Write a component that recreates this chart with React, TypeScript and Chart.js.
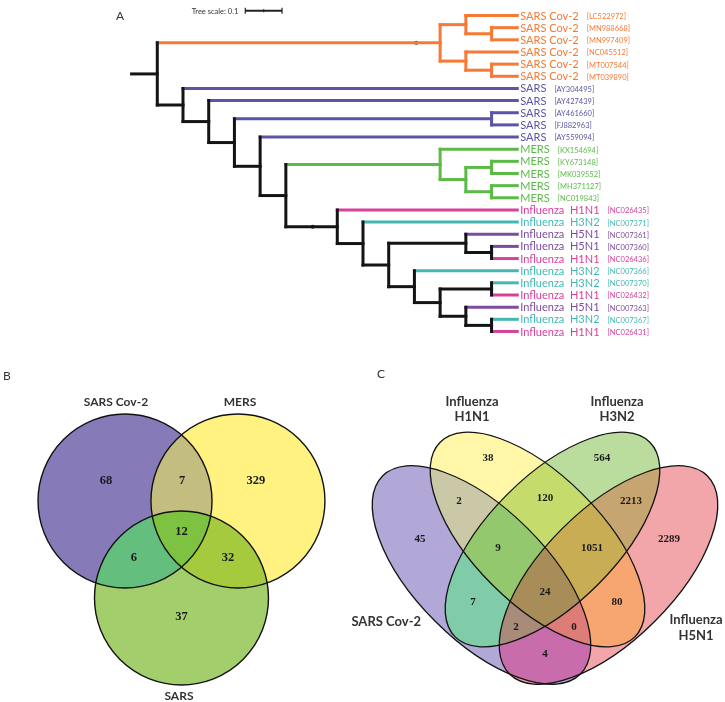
import React, { useEffect, useRef } from "react";
import { Chart, registerables } from "chart.js";

Chart.register(...registerables);

// ================= Panel A: phylogenetic tree =================
const leafNames = [
  "SARS Cov-2", "SARS Cov-2", "SARS Cov-2", "SARS Cov-2", "SARS Cov-2", "SARS Cov-2",
  "SARS", "SARS", "SARS", "SARS", "SARS",
  "MERS", "MERS", "MERS", "MERS", "MERS",
  "Influenza  H1N1", "Influenza  H3N2", "Influenza  H5N1", "Influenza  H5N1", "Influenza  H1N1",
  "Influenza  H3N2", "Influenza  H3N2", "Influenza  H1N1", "Influenza  H5N1", "Influenza  H3N2", "Influenza  H1N1",
];
const leafAccessions = [
  "LC522972", "MN988668", "MN997409", "NC045512", "MT007544", "MT039890",
  "AY304495", "AY427439", "AY461660", "FJ882963", "AY559094",
  "KX154694", "KY673148", "MK039552", "MH371127", "NC019843",
  "NC026435", "NC007371", "NC007361", "NC007360", "NC026436",
  "NC007366", "NC007370", "NC026432", "NC007363", "NC007367", "NC026431",
];
const leafGroups = [
  "cov2", "cov2", "cov2", "cov2", "cov2", "cov2",
  "sars", "sars", "sars", "sars", "sars",
  "mers", "mers", "mers", "mers", "mers",
  "h1n1", "h3n2", "h5n1", "h5n1", "h1n1", "h3n2", "h3n2", "h1n1", "h5n1", "h3n2", "h1n1",
];
const leafDistance = 1.05;

// internal nodes: id, distance from root, children (leaf index or node id)
const nodeIds = [
  "root", "n1", "cov", "cov1", "cov1a", "cov2", "cov2a", "n2", "n3", "n4", "sarsP", "n5", "n6",
  "mers", "mers1", "mers1a", "mers1b", "n7", "n8", "n9", "f1", "f1a", "n10", "n11", "f2", "f3", "f3a",
];
const nodeDistances = [
  0, 0.07, 0.84, 0.91, 0.98, 0.91, 0.98, 0.14, 0.21, 0.28, 0.98, 0.35, 0.42,
  0.84, 0.91, 0.98, 0.98, 0.56, 0.63, 0.7, 0.91, 0.98, 0.77, 0.84, 0.98, 0.91, 0.98,
];
const nodeChildren: (string | number)[][] = [
  ["n1"], ["cov", "n2"], ["cov1", "cov2"], [0, "cov1a"], [1, 2], [3, "cov2a"], [4, 5],
  [6, "n3"], [7, "n4"], ["sarsP", "n5"], [8, 9], [10, "n6"], ["mers", "n7"],
  [11, "mers1"], ["mers1a", "mers1b"], [12, 13], [14, 15],
  [16, "n8"], [17, "n9"], ["f1", "n10"], [18, "f1a"], [19, 20], [21, "n11"], ["f2", "f3"], [22, 23], [24, "f3a"], [25, 26],
];
const supportMarkNodes = ["cov", "n7"];
const supportMarkDistances = [0.775, 0.493];
const treeScaleLength = 0.1;

const groupColors: Record<string, string> = {
  cov2: "#F47A35",
  sars: "#5A55A6",
  mers: "#5CBA47",
  h1n1: "#D8409A",
  h3n2: "#43B8B3",
  h5n1: "#7E4C9E",
};

// ================= Panel B: 3-set Venn =================
const vennBSetNames = ["SARS Cov-2", "MERS", "SARS"];
const vennBRegionSets = [
  ["SARS Cov-2"], ["MERS"], ["SARS"],
  ["SARS Cov-2", "MERS"], ["SARS Cov-2", "SARS"], ["MERS", "SARS"],
  ["SARS Cov-2", "MERS", "SARS"],
];
const vennBCounts = [68, 329, 37, 7, 6, 32, 12];

// layout / style for B (units: circle radius = 1)
const vennBCircles = [
  { cx: -0.649, cy: 0.371, rx: 1, ry: 1, angle: 0 },
  { cx: 0.649, cy: 0.371, rx: 1, ry: 1, angle: 0 },
  { cx: 0, cy: -0.744, rx: 1, ry: 1, angle: 0 },
];
const vennBCountPos = [
  [-0.868, 0.613], [0.856, 0.613], [0, -0.951],
  [0.006, 0.613], [-0.546, -0.272], [0.534, -0.272],
  [0, 0.026],
];
const vennBColors = ["#867AB8", "#FFF280", "#A3CE6C", "#C3BE80", "#64BE7E", "#A6CA3E", "#7EC242"];
const vennBLabelPos = [[-0.753, 1.509], [0.672, 1.509], [-0.029, -1.87]];

// ================= Panel C: 4-set Venn =================
const vennCSetNames = ["SARS Cov-2", "Influenza H1N1", "Influenza H3N2", "Influenza H5N1"];
const vennCRegionCodes = ["A", "B", "C", "D", "AB", "AC", "AD", "BC", "BD", "CD", "ABC", "ABD", "ACD", "BCD", "ABCD"];
const vennCCounts = [45, 38, 564, 2289, 2, 7, 4, 120, 80, 2213, 9, 0, 2, 1051, 24];

// layout / style for C
const vennCEllipses = [
  { cx: -0.441, cy: -0.208, rx: 0.972, ry: 0.455, angle: -45 },
  { cx: -0.052, cy: 0.038, rx: 0.956, ry: 0.444, angle: -45 },
  { cx: 0.052, cy: 0.038, rx: 0.956, ry: 0.444, angle: 45 },
  { cx: 0.441, cy: -0.208, rx: 0.972, ry: 0.455, angle: 45 },
];
const vennCCountPos = [
  [-0.868, 0.042], [-0.396, 0.604], [0.396, 0.604], [0.861, 0.042],
  [-0.597, 0.306], [-0.5, -0.396], [0, -0.757], [0, 0.326], [0.5, -0.396], [0.597, 0.306],
  [-0.326, -0.021], [0.201, -0.569], [-0.201, -0.569], [0.326, -0.021], [0, -0.326],
];
const vennCColors = [
  "#B2A8D8", "#FFF6A8", "#BADC9C", "#F2A6AA",
  "#CAC8A7", "#80CCA8", "#C86CAC", "#C5DC6C", "#F6A66E", "#C6A570",
  "#93C86E", "#DE7C78", "#A88B78", "#C9AD55", "#A88D58",
];

// ================= helpers =================
type TNode = { x: number; y: number; groups: Set<string>; kids: TNode[] };

function buildTree() {
  const cache = new Map<string | number, TNode>();
  const get = (id: string | number): TNode => {
    if (cache.has(id)) return cache.get(id)!;
    let n: TNode;
    if (typeof id === "number") {
      n = { x: leafDistance, y: id, groups: new Set([leafGroups[id]]), kids: [] };
    } else {
      const i = nodeIds.indexOf(id);
      const kids = nodeChildren[i].map(get);
      const groups = new Set<string>();
      kids.forEach((k) => k.groups.forEach((g) => groups.add(g)));
      n = { x: nodeDistances[i], y: (kids[0].y + kids[kids.length - 1].y) / 2, groups, kids };
    }
    cache.set(id, n);
    return n;
  };
  nodeIds.forEach((id) => get(id));
  return get;
}

const BLACK = "#141414";
const nodeColor = (n: TNode) => (n.groups.size === 1 ? groupColors[[...n.groups][0]] : BLACK);

function makeTree(canvas: HTMLCanvasElement) {
  const get = buildTree();
  const black: any[] = [];
  const colored: any[] = [];
  const seg = (x1: number, y1: number, x2: number, y2: number, color: string) => {
    const ds = {
      data: [{ x: x1, y: y1 }, { x: x2, y: y2 }],
      showLine: true,
      borderColor: color,
      backgroundColor: color,
      borderWidth: 3,
      borderCapStyle: "square",
      pointRadius: 0,
      pointHoverRadius: 0,
    };
    (color === BLACK ? black : colored).push(ds);
  };
  nodeIds.forEach((id) => {
    const n = get(id);
    if (n.kids.length > 1) seg(n.x, n.kids[0].y, n.x, n.kids[n.kids.length - 1].y, nodeColor(n));
    n.kids.forEach((k) => seg(n.x, k.y, k.x, k.y, nodeColor(k)));
  });
  const marks = {
    data: supportMarkNodes.map((id, i) => ({ x: supportMarkDistances[i], y: get(id).y })),
    showLine: false,
    pointRadius: 2,
    pointBackgroundColor: BLACK,
    pointBorderWidth: 0,
  };

  const plugin = {
    id: "treeText",
    afterDatasetsDraw(chart: any) {
      const { ctx } = chart;
      const xs = chart.scales.x;
      const ys = chart.scales.y;
      ctx.save();
      ctx.textBaseline = "middle";
      ctx.textAlign = "left";
      leafNames.forEach((name, i) => {
        const color = groupColors[leafGroups[i]];
        const px = xs.getPixelForValue(leafDistance) + 3;
        const py = ys.getPixelForValue(i) + 0.5;
        ctx.fillStyle = color;
        ctx.font = "11px Lato, 'Open Sans', sans-serif";
        ctx.fillText(name, px, py);
        const w = ctx.measureText(name).width;
        ctx.font = "7.5px Lato, 'Open Sans', sans-serif";
        ctx.fillText(`[${leafAccessions[i]}]`, px + w + 8, py + 0.5);
      });
      // tree scale bar
      const bx0 = xs.getPixelForValue(0.3096);
      const bx1 = xs.getPixelForValue(0.3096 + treeScaleLength);
      const by = ys.getPixelForValue(-0.386);
      ctx.strokeStyle = "#222";
      ctx.lineWidth = 2;
      ctx.beginPath();
      ctx.moveTo(bx0, by);
      ctx.lineTo(bx1, by);
      ctx.stroke();
      ctx.lineWidth = 1.2;
      ctx.beginPath();
      ctx.moveTo(bx0, by - 3);
      ctx.lineTo(bx0, by + 3);
      ctx.moveTo(bx1, by - 3);
      ctx.lineTo(bx1, by + 3);
      ctx.moveTo((bx0 + bx1) / 2, by - 1.5);
      ctx.lineTo((bx0 + bx1) / 2, by + 1.5);
      ctx.stroke();
      ctx.fillStyle = "#333";
      ctx.font = "7.5px Lato, 'Open Sans', sans-serif";
      ctx.textAlign = "right";
      ctx.fillText(`Tree scale: ${treeScaleLength}`, bx0 - 7, by + 0.5);
      // panel letter
      ctx.textAlign = "left";
      ctx.font = "12px Lato, 'Open Sans', sans-serif";
      ctx.fillText("A", 116, 16.5);
      ctx.restore();
    },
  };

  return new Chart(canvas, {
    type: "scatter",
    data: { datasets: [...black, ...colored, marks] as any },
    options: {
      animation: false,
      responsive: false,
      devicePixelRatio: 1,
      events: [],
      layout: { padding: 0 },
      plugins: { legend: { display: false }, tooltip: { enabled: false } },
      scales: {
        x: { type: "linear", display: false, min: -0.3473, max: 1.6046 },
        y: { type: "linear", display: false, reverse: true, min: -0.9486, max: 26.785 },
      },
    },
    plugins: [plugin],
  });
}

type Shape = { cx: number; cy: number; rx: number; ry: number; angle: number };
const popcount = (m: number) => {
  let c = 0;
  while (m) {
    c += m & 1;
    m >>= 1;
  }
  return c;
};

function drawVenn(chart: any, shapes: Shape[], masks: number[], colors: string[], lw: number) {
  const { ctx } = chart;
  const xs = chart.scales.x;
  const ys = chart.scales.y;
  const ppu = Math.abs(xs.getPixelForValue(1) - xs.getPixelForValue(0));
  const path = (s: Shape) => {
    ctx.beginPath();
    ctx.ellipse(xs.getPixelForValue(s.cx), ys.getPixelForValue(s.cy), s.rx * ppu, s.ry * ppu, (-s.angle * Math.PI) / 180, 0, Math.PI * 2);
  };
  const order = masks.map((_, i) => i).sort((a, b) => popcount(masks[a]) - popcount(masks[b]));
  order.forEach((i) => {
    ctx.save();
    shapes.forEach((s, k) => {
      if (masks[i] & (1 << k)) {
        path(s);
        ctx.clip();
      }
    });
    ctx.fillStyle = colors[i];
    ctx.fillRect(0, 0, chart.width, chart.height);
    ctx.restore();
  });
  ctx.save();
  ctx.strokeStyle = "#121212";
  ctx.lineWidth = lw;
  shapes.forEach((s) => {
    path(s);
    ctx.stroke();
  });
  ctx.restore();
}

function baseOptions(xmin: number, xmax: number, ymin: number, ymax: number): any {
  return {
    animation: false,
    responsive: false,
    devicePixelRatio: 1,
    events: [],
    layout: { padding: 0 },
    plugins: { legend: { display: false }, tooltip: { enabled: false } },
    scales: {
      x: { type: "linear", display: false, min: xmin, max: xmax },
      y: { type: "linear", display: false, min: ymin, max: ymax },
    },
  };
}

function makeVennB(canvas: HTMLCanvasElement) {
  const masks = vennBRegionSets.map((sets) => sets.reduce((m, s) => m | (1 << vennBSetNames.indexOf(s)), 0));
  const plugin = {
    id: "vennB",
    afterDraw(chart: any) {
      drawVenn(chart, vennBCircles, masks, vennBColors, 1.4);
      const { ctx } = chart;
      const xs = chart.scales.x;
      const ys = chart.scales.y;
      ctx.save();
      ctx.textAlign = "center";
      ctx.textBaseline = "middle";
      ctx.fillStyle = "#1a1a1a";
      ctx.font = "bold 12.5px 'Liberation Serif', 'Times New Roman', serif";
      vennBCounts.forEach((c, i) => {
        ctx.fillText(String(c), xs.getPixelForValue(vennBCountPos[i][0]), ys.getPixelForValue(vennBCountPos[i][1]) + 0.5);
      });
      ctx.fillStyle = "#333";
      ctx.font = "bold 12px Lato, 'Open Sans', sans-serif";
      vennBSetNames.forEach((n, i) => {
        ctx.fillText(n, xs.getPixelForValue(vennBLabelPos[i][0]), ys.getPixelForValue(vennBLabelPos[i][1]));
      });
      ctx.font = "12px Lato, 'Open Sans', sans-serif";
      ctx.textAlign = "left";
      ctx.fillText("B", 3, 31);
      ctx.restore();
    },
  };
  return new Chart(canvas, {
    type: "scatter",
    data: { datasets: [] },
    options: baseOptions(-2.086, 1.822, -1.939, 2.164),
    plugins: [plugin],
  });
}

function makeVennC(canvas: HTMLCanvasElement) {
  const masks = vennCRegionCodes.map((code) => code.split("").reduce((m, ch) => m | (1 << "ABCD".indexOf(ch)), 0));
  const plugin = {
    id: "vennC",
    afterDraw(chart: any) {
      drawVenn(chart, vennCEllipses, masks, vennCColors, 1.3);
      const { ctx } = chart;
      const xs = chart.scales.x;
      const ys = chart.scales.y;
      ctx.save();
      ctx.textAlign = "center";
      ctx.textBaseline = "middle";
      ctx.fillStyle = "#1a1a1a";
      ctx.font = "bold 11px 'Liberation Serif', 'Times New Roman', serif";
      vennCCounts.forEach((c, i) => {
        ctx.fillText(String(c), xs.getPixelForValue(vennCCountPos[i][0]), ys.getPixelForValue(vennCCountPos[i][1]) + 0.5);
      });
      ctx.fillStyle = "#333";
      ctx.font = "bold 13px Lato, 'Open Sans', sans-serif";
      const two = (name: string, x: number, y1: number, y2: number) => {
        const [l1, l2] = name.split(" ");
        ctx.fillText(l1, xs.getPixelForValue(x), ys.getPixelForValue(y1));
        ctx.fillText(l2, xs.getPixelForValue(x), ys.getPixelForValue(y2));
      };
      two(vennCSetNames[1], -0.507, 0.993, 0.889);
      two(vennCSetNames[2], 0.5, 0.993, 0.889);
      two(vennCSetNames[3], 1.049, -0.521, -0.632);
      ctx.textAlign = "right";
      ctx.fillText(vennCSetNames[0], xs.getPixelForValue(-0.861), ys.getPixelForValue(-0.535));
      ctx.font = "12px Lato, 'Open Sans', sans-serif";
      ctx.textAlign = "left";
      ctx.fillText("C", 37, 29);
      ctx.restore();
    },
  };
  return new Chart(canvas, {
    type: "scatter",
    data: { datasets: [] },
    options: baseOptions(-1.4236, 1.25, -1.09, 1.389),
    plugins: [plugin],
  });
}

export default function App() {
  const refA = useRef<HTMLCanvasElement>(null);
  const refB = useRef<HTMLCanvasElement>(null);
  const refC = useRef<HTMLCanvasElement>(null);
  useEffect(() => {
    const charts = [makeTree(refA.current!), makeVennB(refB.current!), makeVennC(refC.current!)];
    return () => charts.forEach((c) => c.destroy());
  }, []);
  return (
    <div style={{ position: "fixed", left: 0, top: 0, width: 725, height: 702, background: "#fff" }}>
      <canvas ref={refA} width={725} height={345} style={{ position: "absolute", left: 0, top: 0 }} />
      <canvas ref={refB} width={340} height={357} style={{ position: "absolute", left: 0, top: 345 }} />
      <canvas ref={refC} width={385} height={357} style={{ position: "absolute", left: 340, top: 345 }} />
    </div>
  );
}
